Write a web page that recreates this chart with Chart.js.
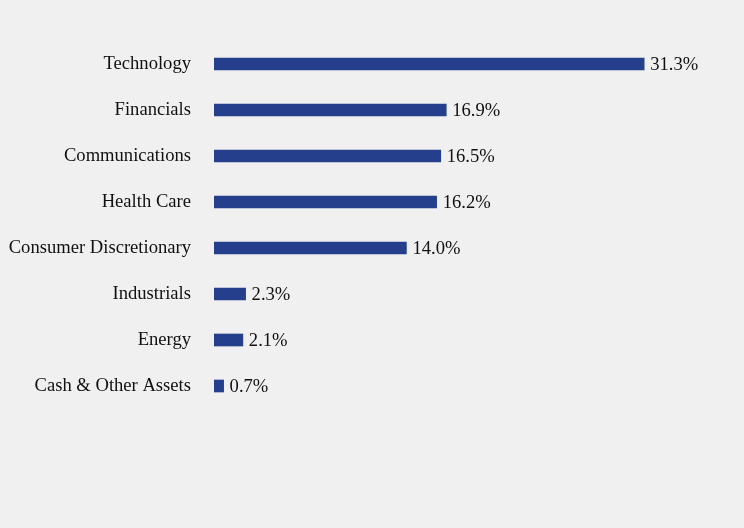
<!DOCTYPE html>
<html>
<head>
<meta charset="utf-8">
<script src="https://cdn.jsdelivr.net/npm/chart.js@4"></script>
<style>
    html, body { margin: 0; padding: 0; background: #f0f0f0; }
    #wrap { width: 744px; height: 528px; }
</style>
</head>
<body>
<div id="wrap"><canvas id="sectorChart"></canvas></div>
<script>
const sectors = ['Technology', 'Financials', 'Communications', 'Health Care',
    'Consumer Discretionary', 'Industrials', 'Energy', 'Cash & Other Assets'];
const weights = [31.3, 16.9, 16.5, 16.2, 14.0, 2.3, 2.1, 0.7];

const fontFamily = '"Liberation Serif", "Times New Roman", serif';
const fontSize = 18.6;

// writes the percentage just past the end of each bar
const valueLabels = {
    id: 'valueLabels',
    afterDatasetsDraw(chart) {
        const ctx = chart.ctx;
        const meta = chart.getDatasetMeta(0);
        ctx.save();
        ctx.font = fontSize + 'px ' + fontFamily;
        ctx.fillStyle = '#111';
        ctx.textAlign = 'left';
        ctx.textBaseline = 'middle';
        meta.data.forEach((bar, i) => {
            ctx.fillText(weights[i].toFixed(1) + '%', bar.x + 6, bar.y + 1);
        });
        ctx.restore();
    }
};

new Chart(document.getElementById('sectorChart'), {
    type: 'bar',
    data: {
        labels: sectors,
        datasets: [{
            data: weights,
            backgroundColor: '#263f8c',
            barThickness: 12
        }]
    },
    options: {
        indexAxis: 'y',
        responsive: true,
        maintainAspectRatio: false,
        animation: false,
        layout: { padding: { top: 41, bottom: 119, right: 49, left: 0 } },
        scales: {
            x: {
                display: false,
                min: 0,
                max: 35
            },
            y: {
                grid: { display: false, drawTicks: false },
                border: { display: false },
                ticks: {
                    color: '#111',
                    padding: 23,
                    font: { family: fontFamily, size: fontSize }
                },
                afterFit(scale) { scale.width = 214; }
            }
        },
        plugins: {
            legend: { display: false },
            tooltip: { enabled: false }
        }
    },
    plugins: [valueLabels]
});
</script>
</body>
</html>
